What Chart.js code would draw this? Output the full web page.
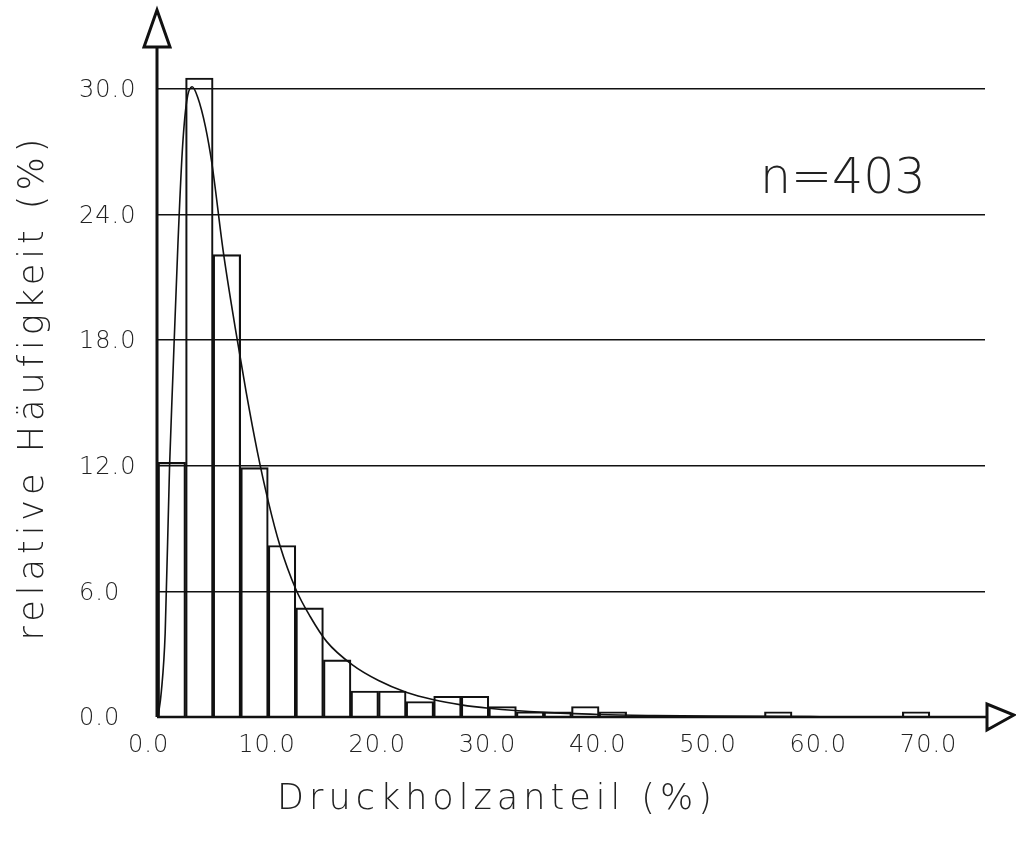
<!DOCTYPE html>
<html>
<head>
<meta charset="utf-8">
<script src="https://cdn.jsdelivr.net/npm/chart.js@4.4.1/dist/chart.umd.min.js"></script>
<style>
  html, body { margin: 0; padding: 0; background: #fff; }
  canvas { display: block; }
</style>
</head>
<body>
<canvas id="chartCanvas" width="1016" height="842"></canvas>
<script>
// histogram classes, 2.5 % wide (class centres)
const binCenters = [1.25, 3.75, 6.25, 8.75, 11.25, 13.75, 16.25, 18.75, 21.25, 23.75,
  26.25, 28.75, 31.25, 33.75, 36.25, 38.75, 41.25, 43.75, 46.25, 48.75,
  51.25, 53.75, 56.25, 58.75, 61.25, 63.75, 66.25, 68.75, 71.25, 73.75];
// relative frequency (%)
const relFreq = [12.16, 30.52, 22.08, 11.91, 8.19, 5.21, 2.73, 1.24, 1.24, 0.74,
  0.99, 0.99, 0.50, 0.25, 0.25, 0.50, 0.25, 0, 0, 0,
  0, 0, 0.25, 0, 0, 0, 0, 0.25, 0, 0];

// fitted density curve
const curveX = [0, 0.3, 0.65, 1.05, 1.35, 1.8, 2.2, 2.6, 3.1, 3.6, 4.3, 4.9, 5.9, 7.0,
  8.0, 9.0, 10.0, 11.05, 12.5, 13.8, 15.3, 17.6, 20, 22.5, 25, 27.5, 30, 35, 40, 45, 50, 60, 75];
const curveY = [0, 1.2, 4.0, 12.0, 16.3, 22.5, 27.0, 29.4, 30.1, 29.6, 28.2, 26.4, 22.3, 18.6,
  15.5, 12.7, 10.3, 8.2, 6.1, 4.8, 3.6, 2.5, 1.74, 1.18, 0.82, 0.58, 0.42, 0.22, 0.12, 0.07, 0.04, 0.015, 0];

const yTicks = [0, 6, 12, 18, 24, 30];
const yTickLabels = ['0.0', '6.0', '12.0', '18.0', '24.0', '30.0'];
const xTicks = [0, 10, 20, 30, 40, 50, 60, 70];
const xTickLabels = ['0.0', '10.0', '20.0', '30.0', '40.0', '50.0', '60.0', '70.0'];

const sampleText = 'n=403';
const xTitle = 'Druckholzanteil (%)';
const yTitle = 'relative Häufigkeit (%)';

const ink = '#111';
const textInk = '#222';
const fontFam = '"DejaVu Sans", sans-serif';

function setFont(ctx, size, spacing) {
  ctx.font = '200 ' + size + 'px ' + fontFam;
  ctx.letterSpacing = spacing + 'px';
}

const plotterDecor = {
  id: 'plotterDecor',
  afterDraw(chart) {
    const ctx = chart.ctx;
    const xs = chart.scales.x, ys = chart.scales.y;
    const x0 = xs.getPixelForValue(0) - 1;
    const y0 = ys.getPixelForValue(0);
    const top = chart.chartArea.top;
    const right = chart.chartArea.right;

    ctx.save();
    ctx.strokeStyle = ink;
    ctx.fillStyle = '#fff';
    ctx.lineJoin = 'miter';

    // axes
    ctx.lineWidth = 3;
    ctx.beginPath();
    ctx.moveTo(x0, y0);
    ctx.lineTo(x0, top);
    ctx.stroke();
    ctx.lineWidth = 2.5;
    ctx.beginPath();
    ctx.moveTo(x0, y0);
    ctx.lineTo(right + 2, y0);
    ctx.stroke();

    // open arrow heads
    ctx.lineWidth = 3;
    ctx.beginPath();
    ctx.moveTo(x0 - 13, top);
    ctx.lineTo(x0 + 13, top);
    ctx.lineTo(x0, top - 37);
    ctx.closePath();
    ctx.fill();
    ctx.stroke();
    ctx.beginPath();
    ctx.moveTo(right + 2, y0 - 13);
    ctx.lineTo(right + 2, y0 + 13);
    ctx.lineTo(right + 29, y0 - 2);
    ctx.closePath();
    ctx.fill();
    ctx.stroke();

    ctx.fillStyle = textInk;

    // tick labels (left aligned like the plotter)
    setFont(ctx, 24, 1);
    ctx.textAlign = 'left';
    ctx.textBaseline = 'middle';
    yTicks.forEach((v, i) => {
      ctx.fillText(yTickLabels[i], 79, ys.getPixelForValue(v) + 2);
    });
    xTicks.forEach((v, i) => {
      ctx.fillText(xTickLabels[i], xs.getPixelForValue(v) - 30, y0 + 29);
    });

    // axis titles
    setFont(ctx, 35, 5);
    ctx.textAlign = 'center';
    ctx.fillText(xTitle, 497, 800);
    ctx.save();
    ctx.translate(34, 387);
    ctx.rotate(-Math.PI / 2);
    ctx.fillText(yTitle, 0, 0);
    ctx.restore();

    // sample size
    setFont(ctx, 49, 0);
    ctx.textAlign = 'left';
    ctx.textBaseline = 'alphabetic';
    ctx.fillText(sampleText, 760, 193);

    ctx.restore();
  }
};

const chart = new Chart(document.getElementById('chartCanvas').getContext('2d'), {
  type: 'bar',
  data: {
    datasets: [{
      type: 'line',
      data: curveX.map((x, i) => ({ x, y: curveY[i] })),
      borderColor: ink,
      borderWidth: 1.6,
      pointRadius: 0,
      fill: false,
      cubicInterpolationMode: 'monotone'
    }, {
      type: 'bar',
      data: binCenters.map((x, i) => ({ x, y: relFreq[i] })),
      backgroundColor: 'rgba(0,0,0,0)',
      borderColor: ink,
      borderWidth: 1.5,
      barPercentage: 1,
      categoryPercentage: 1
    }]
  },
  options: {
    responsive: false,
    animation: false,
    layout: { padding: { left: 158, right: 31, top: 47, bottom: 117 } },
    plugins: { legend: { display: false }, tooltip: { enabled: false } },
    scales: {
      x: {
        type: 'linear',
        min: 0,
        max: 75,
        offset: false,
        grid: { display: false },
        border: { display: false },
        ticks: { display: false }
      },
      y: {
        min: 0,
        max: 32,
        afterBuildTicks: s => { s.ticks = yTicks.map(v => ({ value: v })); },
        grid: { color: ink, lineWidth: 1.5, drawTicks: false },
        border: { display: false },
        ticks: { display: false }
      }
    }
  },
  plugins: [plotterDecor]
});
</script>
</body>
</html>
